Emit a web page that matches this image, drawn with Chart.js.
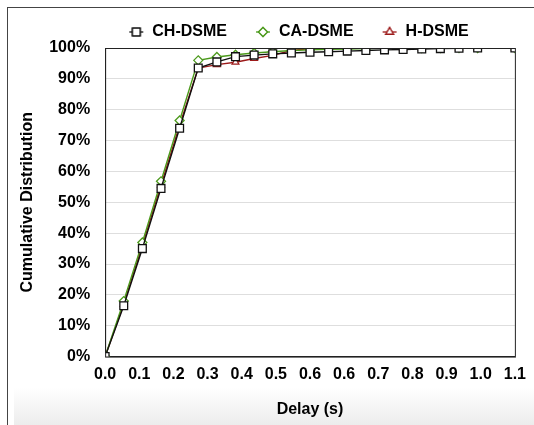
<!DOCTYPE html>
<html>
<head>
<meta charset="utf-8">
<script src="https://cdn.jsdelivr.net/npm/chart.js@4/dist/chart.umd.min.js"></script>
<style>
  html, body { margin: 0; padding: 0; background: #fff; }
  #wrap { position: relative; width: 534px; height: 425px; overflow: hidden; }
  #frame { position: absolute; left: 7px; top: 7px; width: 600px; height: 500px;
           border-left: 1px solid #444; border-top: 1px solid #444; }
  #shade { position: absolute; left: 14px; top: 388px; width: 520px; height: 37px;
           background: linear-gradient(#fff, #ececec); }
  canvas#cdf { position: absolute; left: 0; top: 0; }
</style>
</head>
<body>
<div id="wrap">
  <div id="frame"></div>
  <div id="shade"></div>
  <canvas id="cdf" width="534" height="425"></canvas>
</div>
<script>
// delay (s) for each sample point
const delays = [0, 0.05, 0.1, 0.15, 0.2, 0.25, 0.3, 0.35, 0.4, 0.45, 0.5,
                0.55, 0.6, 0.65, 0.7, 0.75, 0.8, 0.85, 0.9, 0.95, 1.0, 1.1];

// cumulative distribution in %
const chDsme = [0, 16.5, 35, 54.5, 74, 93.5, 95.5, 97.2, 97.7, 98.1, 98.4,
                98.6, 98.8, 99.0, 99.2, 99.4, 99.5, 99.7, 99.8, 99.9, 100, 100];
const caDsme = [0, 18, 37, 56.8, 76.5, 96, 97.1, 97.8, 98.4, 98.8, 99.2,
                99.4, 99.6, 99.7, 99.8, 99.9, 100, 100, 100, 100, 100, 100];
const hDsme  = [0, 17, 36, 55.5, 75, 93.5, 94.6, 95.4, 96.6, 97.6, 99.2,
                99.8, 100, 100, 100, 100, 100, 100, 100, 100, 100, 100];

// excel style axis labels (major unit 1.1/12, rounded to 1 decimal)
const xTickLabels = ['0.0', '0.1', '0.2', '0.3', '0.4', '0.5', '0.6',
                     '0.6', '0.7', '0.8', '0.9', '1.0', '1.1'];
const yTicks = [0, 10, 20, 30, 40, 50, 60, 70, 80, 90, 100];

const toPoints = vals => vals.map((v, i) => ({ x: delays[i], y: v }));

// little "line + marker" icon like the excel legend
function legendIcon(style, color) {
    const c = document.createElement('canvas');
    c.width = 16; c.height = 12;
    const g = c.getContext('2d');
    g.strokeStyle = color;
    g.lineWidth = 1.3;
    g.beginPath(); g.moveTo(1, 6); g.lineTo(15, 6); g.stroke();
    Chart.helpers.drawPoint(g, { pointStyle: style, radius: style === 'rect' ? 5.5 : 4.5,
                                 borderWidth: 1.3 }, 8, 6);
    g.fillStyle = '#fff';
    g.fill();
    g.stroke();
    return c;
}

const boxBorder = {
    id: 'boxBorder',
    afterDatasetsDraw(chart) {
        const { ctx, chartArea: a } = chart;
        ctx.save();
        ctx.strokeStyle = '#222';
        ctx.lineWidth = 1;
        ctx.strokeRect(a.left + 0.5, a.top + 0.5, a.right - a.left, a.bottom - a.top);
        ctx.restore();
    }
};

// keep the wide item spacing but not the tall legend box; nudge it right
const legendTweak = {
    id: 'legendTweak',
    beforeInit(chart) {
        const lg = chart.legend;
        const fit = lg.fit;
        lg.fit = function () {
            fit.call(lg);
            this.height = 54;
        };
        const draw = lg.draw;
        lg.draw = function () {
            chart.ctx.save();
            chart.ctx.translate(31, 2);
            draw.call(lg);
            chart.ctx.restore();
        };
    }
};

const font = { family: 'Arial, "Liberation Sans", sans-serif', weight: 'bold' };

new Chart(document.getElementById('cdf'), {
    type: 'line',
    data: {
        datasets: [
            {
                label: 'CH-DSME', data: toPoints(chDsme), order: 0,
                borderColor: '#111', backgroundColor: '#fff', borderWidth: 1.4,
                pointStyle: 'rect', pointRadius: 5.5, pointBorderWidth: 1.3,
                pointBackgroundColor: '#fff', pointBorderColor: '#111'
            },
            {
                label: 'CA-DSME', data: toPoints(caDsme), order: 1,
                borderColor: '#4c9a1c', backgroundColor: '#fff', borderWidth: 1.4,
                pointStyle: 'rectRot', pointRadius: 4.5, pointBorderWidth: 1.3,
                pointBackgroundColor: '#fff', pointBorderColor: '#4c9a1c'
            },
            {
                label: 'H-DSME', data: toPoints(hDsme), order: 2,
                borderColor: '#9c1a1a', backgroundColor: '#fff', borderWidth: 1.4,
                pointStyle: 'triangle', pointRadius: 4, pointBorderWidth: 1.2,
                pointBackgroundColor: '#fff', pointBorderColor: '#9c1a1a'
            }
        ]
    },
    options: {
        responsive: false,
        animation: false,
        layout: { padding: { left: 18, right: 17, top: -6, bottom: 6 } },
        plugins: {
            legend: {
                position: 'top',
                labels: {
                    usePointStyle: true, boxWidth: 16, boxHeight: 8, padding: 28,
                    color: '#000', font: { ...font, size: 16 },
                    generateLabels: chart => {
                        const items = Chart.defaults.plugins.legend.labels.generateLabels(chart);
                        items.forEach((it, i) => {
                            const ds = chart.data.datasets[i];
                            it.pointStyle = legendIcon(ds.pointStyle, ds.borderColor);
                        });
                        return items;
                    }
                }
            },
            tooltip: { enabled: false }
        },
        scales: {
            x: {
                type: 'linear', min: 0, max: 1.1,
                afterBuildTicks: axis => {
                    axis.ticks = xTickLabels.map((_, i) => ({ value: i * 1.1 / 12 }));
                },
                ticks: {
                    color: '#000', font: { ...font, size: 16 }, maxRotation: 0,
                    autoSkip: false, padding: 8,
                    callback: (v, i) => xTickLabels[i]
                },
                grid: { display: false, drawTicks: false },
                border: { color: '#222' },
                title: { display: true, text: 'Delay (s)', color: '#000',
                         font: { ...font, size: 16 }, padding: { top: 8, bottom: 0 } }
            },
            y: {
                min: 0, max: 100,
                afterBuildTicks: axis => {
                    axis.ticks = yTicks.map(v => ({ value: v }));
                },
                ticks: {
                    color: '#000', font: { ...font, size: 16 }, padding: 15,
                    callback: v => v + '%'
                },
                grid: { color: '#dedede', drawTicks: false },
                border: { color: '#222' },
                title: { display: true, text: 'Cumulative Distribution', color: '#000',
                         font: { ...font, size: 16 }, padding: { top: 0, bottom: -3 } }
            }
        }
    },
    plugins: [boxBorder, legendTweak]
});
</script>
</body>
</html>
